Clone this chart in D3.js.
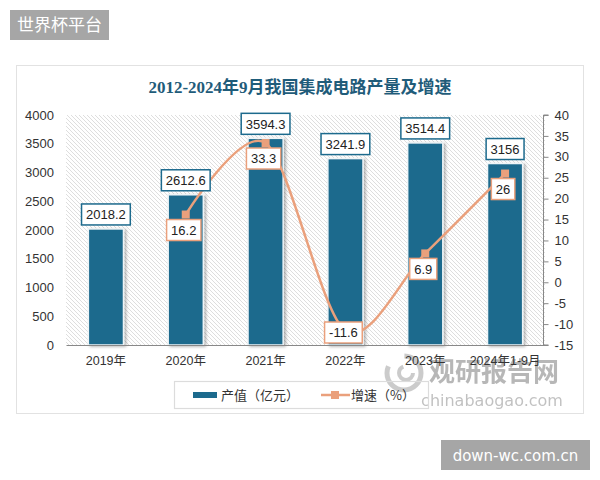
<!DOCTYPE html>
<html>
<head>
<meta charset="utf-8">
<script src="https://cdn.jsdelivr.net/npm/d3@7.9.0/dist/d3.min.js"></script>
<style>
  body { margin: 0; background: #fff; }
  svg { display: block; font-family: "Liberation Sans", "Noto Sans CJK SC", sans-serif; }
</style>
</head>
<body>
<svg id="chart" width="600" height="480"></svg>
<script>
// Data
const years = ['2019年', '2020年', '2021年', '2022年', '2023年', '2024年1-9月'];
const output = [2018.2, 2612.6, 3594.3, 3241.9, 3514.4, 3156];
const growth = [null, 16.2, 33.3, -11.6, 6.9, 26];
const leftTicks = [0, 500, 1000, 1500, 2000, 2500, 3000, 3500, 4000];
const rightTicks = [-15, -10, -5, 0, 5, 10, 15, 20, 25, 30, 35, 40];

const barColor = '#1c6a8d';
const lineColor = '#eaa07c';
const cjk = '"Noto Sans CJK SC", sans-serif';

const svg = d3.select('#chart');
const margin = { top: 115, right: 55, bottom: 135, left: 66 };
const W = 600, H = 480;
const x0 = margin.left, x1 = W - margin.right; // 66..545
const y0 = H - margin.bottom, y1 = margin.top;  // 345..115

// Top-left badge
svg.append('rect').attr('x', 10).attr('y', 10).attr('width', 99).attr('height', 30).attr('fill', '#a6a6a6');
svg.append('text').attr('x', 59.5).attr('y', 31).attr('text-anchor', 'middle')
  .attr('fill', '#fff').style('font-family', cjk).style('font-size', '17px').text('世界杯平台');

// Card
svg.append('rect').attr('x', 16.5).attr('y', 65.5).attr('width', 567).attr('height', 348)
  .attr('fill', '#fff').attr('stroke', '#e2e2e2');

// Title
svg.append('text').attr('x', 300).attr('y', 93).attr('text-anchor', 'middle')
  .attr('fill', '#1f5c7a').style('font-family', '"Liberation Serif", "Noto Sans CJK SC", serif')
  .style('font-size', '17px').style('font-weight', 'bold').text('2012-2024年9月我国集成电路产量及增速');

// Hatch pattern
const defs = svg.append('defs');
const pat = defs.append('pattern').attr('id', 'hatch').attr('patternUnits', 'userSpaceOnUse')
  .attr('width', 4).attr('height', 4);
pat.append('rect').attr('width', 4).attr('height', 4).attr('fill', '#fff');
pat.append('path').attr('d', 'M-1,-1 L5,5 M-1,3 L1,5 M3,-1 L5,1')
  .attr('stroke', '#d6d6d6').attr('stroke-width', 0.8);

const shadow = defs.append('filter').attr('id', 'shadow').attr('x', '-20%').attr('y', '-20%')
  .attr('width', '150%').attr('height', '150%');
shadow.append('feDropShadow').attr('dx', 2).attr('dy', 1).attr('stdDeviation', 1.5)
  .attr('flood-color', '#000').attr('flood-opacity', 0.3);

svg.append('rect').attr('x', x0).attr('y', y1).attr('width', x1 - x0).attr('height', y0 - y1)
  .attr('fill', 'url(#hatch)');

// Scales
const x = d3.scaleBand().domain(years).range([x0, x1]).paddingInner(0.56).paddingOuter(0.28);
const yL = d3.scaleLinear().domain([0, 4000]).range([y0, y1]);
const yR = d3.scaleLinear().domain([-15, 40]).range([y0, y1]);
const plain = d => String(d);

// Left axis
const axL = svg.append('g').attr('transform', `translate(${x0},0)`)
  .call(d3.axisLeft(yL).tickValues(leftTicks).tickFormat(plain).tickSize(0).tickPadding(12));
axL.select('.domain').remove();
axL.selectAll('text').attr('fill', '#333').style('font-size', '13px');

// Right axis
const axR = svg.append('g').attr('transform', `translate(${x1 - 1.5},0)`)
  .call(d3.axisRight(yR).tickValues(rightTicks).tickFormat(plain).tickSize(5).tickPadding(6));
axR.select('.domain').attr('stroke', '#888').attr('d', `M5,${y1}H0V${y0}H5`);
axR.selectAll('line').attr('stroke', '#888');
axR.selectAll('text').attr('fill', '#333').style('font-size', '13px');

// Bars
svg.append('g').selectAll('rect').data(years).join('rect')
  .attr('x', d => x(d)).attr('width', x.bandwidth())
  .attr('y', (d, i) => yL(output[i])).attr('height', (d, i) => y0 - yL(output[i]))
  .attr('fill', barColor).attr('stroke', '#eef4f7').attr('stroke-width', 1.5)
  .attr('filter', 'url(#shadow)');

// Watermark (behind the axis labels)
const wm = svg.append('g').attr('opacity', 0.6);
wm.append('circle').attr('cx', 404).attr('cy', 373).attr('r', 17).attr('fill', 'none')
  .attr('stroke', '#aaa').attr('stroke-width', 5).attr('stroke-dasharray', '60 20');
wm.append('circle').attr('cx', 406).attr('cy', 373).attr('r', 7).attr('fill', 'none')
  .attr('stroke', '#aaa').attr('stroke-width', 4).attr('stroke-dasharray', '30 14');
wm.append('text').attr('x', 494).attr('y', 381).attr('text-anchor', 'middle')
  .attr('fill', '#888').style('font-family', cjk).style('font-size', '26px').style('font-weight', 'bold')
  .text('观研报告网');
wm.append('text').attr('x', 492).attr('y', 406).attr('text-anchor', 'middle')
  .attr('fill', '#999').style('font-family', '"DejaVu Sans", sans-serif').style('font-size', '16px')
  .text('chinabaogao.com');

// Bottom axis
const axB = svg.append('g').attr('transform', `translate(0,${y0})`)
  .call(d3.axisBottom(x).tickSize(0).tickPadding(11));
axB.select('.domain').attr('stroke', '#888').attr('stroke-width', 1.2);
axB.selectAll('text').attr('fill', '#333').style('font-family', '"Liberation Sans", "Noto Sans CJK SC", sans-serif')
  .style('font-size', '12.5px');

// Label boxes
function labelBox(g, cx, top, text, stroke, fontSize) {
  const t = g.append('text').attr('x', cx).attr('text-anchor', 'middle')
    .attr('fill', '#222').style('font-size', fontSize + 'px').text(text);
  const w = t.node().getComputedTextLength() + 9;
  const h = 21;
  g.insert('rect', () => t.node())
    .attr('x', cx - w / 2).attr('y', top).attr('width', w).attr('height', h)
    .attr('fill', '#fff').attr('stroke', stroke).attr('stroke-width', 1.5);
  t.attr('y', top + h / 2 + fontSize * 0.36);
}

// Growth line
const pts = years.map((d, i) => ({ d, v: growth[i] })).filter(p => p.v != null);
const cx = d => x(d) + x.bandwidth() / 2;
const line = d3.line().x(p => cx(p.d)).y(p => yR(p.v)).curve(d3.curveCardinal.tension(0.1));
svg.append('path').datum(pts).attr('d', line).attr('fill', 'none')
  .attr('stroke', lineColor).attr('stroke-width', 2.5);
svg.append('g').selectAll('rect').data(pts).join('rect')
  .attr('x', p => cx(p.d) - 4).attr('y', p => yR(p.v) - 4).attr('width', 8).attr('height', 8)
  .attr('fill', lineColor);

const labels = svg.append('g');
years.forEach((d, i) => {
  labelBox(labels.append('g'), cx(d), yL(output[i]) - 25, String(output[i]), barColor, 13);
});
pts.forEach(p => {
  const top = Math.min(yR(p.v) + 5, y0 - 23);
  labelBox(labels.append('g'), cx(p.d) - 2, top, String(p.v), lineColor, 13);
});

// Legend
const lg = svg.append('g');
lg.append('rect').attr('x', 174.5).attr('y', 381.5).attr('width', 254).attr('height', 27)
  .attr('fill', 'none').attr('stroke', '#dcdcdc').attr('stroke-width', 1.2);
lg.append('rect').attr('x', 193).attr('y', 392).attr('width', 24).attr('height', 6).attr('fill', barColor);
lg.append('text').attr('x', 221).attr('y', 400).attr('fill', '#333')
  .style('font-family', cjk).style('font-size', '13px').text('产值（亿元）');
lg.append('line').attr('x1', 321).attr('x2', 350).attr('y1', 395).attr('y2', 395)
  .attr('stroke', lineColor).attr('stroke-width', 2.5);
lg.append('rect').attr('x', 331).attr('y', 391).attr('width', 8).attr('height', 8).attr('fill', lineColor);
lg.append('text').attr('x', 351).attr('y', 400).attr('fill', '#333')
  .style('font-family', cjk).style('font-size', '13px').text('增速（%）');

// Bottom-right badge
svg.append('rect').attr('x', 441).attr('y', 440).attr('width', 149).attr('height', 30).attr('fill', '#a6a6a6');
svg.append('text').attr('x', 515.5).attr('y', 461).attr('text-anchor', 'middle')
  .attr('fill', '#fff').style('font-family', '"DejaVu Sans", sans-serif').style('font-size', '15px')
  .text('down-wc.com.cn');
</script>
</body>
</html>
